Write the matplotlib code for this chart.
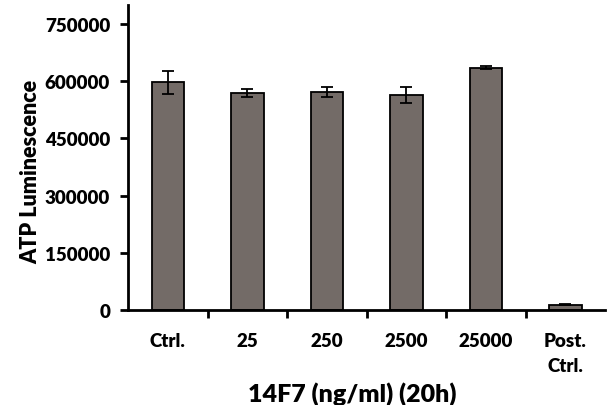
import matplotlib
matplotlib.use("Agg")
import matplotlib.pyplot as plt

categories = ["Ctrl.", "25", "250", "2500", "25000", "Post.\nCtrl."]
values = [597000, 569000, 572000, 565000, 636000, 14000]
errors = [31000, 10000, 13000, 21000, 3000, 2000]

plt.rcParams["font.family"] = ["Lato", "DejaVu Sans"]
plt.rcParams["font.weight"] = "heavy"

fig = plt.figure(figsize=(6.07, 4.06), dpi=100)
ax = fig.add_axes([0.211, 0.234, 0.786, 0.751])

x = list(range(len(categories)))
ax.bar(x, values, width=0.41, color="#736b67", edgecolor="black", linewidth=1.3,
       yerr=errors, error_kw=dict(ecolor="black", elinewidth=1.3, capsize=4, capthick=1.3))

ax.set_xlim(-0.5, 5.5)
ax.set_ylim(0, 800000)
ax.yaxis.set_major_locator(plt.MultipleLocator(150000))

# ticks sit between the categories, labels at the centres
ax.set_xticks([i + 0.5 for i in range(len(categories) - 1)])
ax.set_xticklabels([])
ax.set_xticks(x, minor=True)
ax.set_xticklabels(categories, minor=True, fontsize=13.5, fontweight="heavy",
                   linespacing=1.55)
ax.tick_params(axis="x", which="minor", length=0, pad=16)
ax.tick_params(axis="x", which="major", direction="out", length=6, width=2)
ax.tick_params(axis="y", direction="out", length=6, width=2, labelsize=13.5, pad=7)
for lab in ax.get_yticklabels():
    lab.set_fontweight("heavy")

for s in ["top", "right"]:
    ax.spines[s].set_visible(False)
for s in ["left", "bottom"]:
    ax.spines[s].set_linewidth(2)

# axis titles placed by hand
fig.text(0.05, 0.576, "ATP Luminescence", fontsize=15.5, fontweight="heavy",
         rotation=90, ha="center", va="center")
fig.text(0.58, 0.03, "14F7 (ng/ml) (20h)", fontsize=18, fontweight="heavy",
         ha="center", va="center")

fig.savefig("out.png", dpi=100)
